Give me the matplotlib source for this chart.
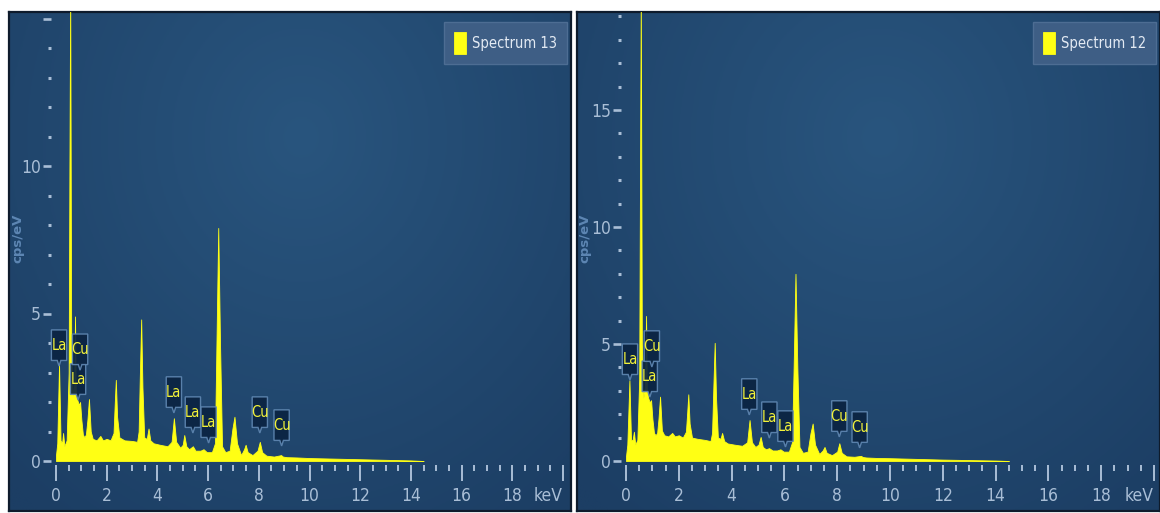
import numpy as np
import matplotlib
matplotlib.use("Agg")
import matplotlib.pyplot as plt
from matplotlib.patches import Polygon
from matplotlib.offsetbox import DrawingArea, AnnotationBbox
from matplotlib.ticker import MultipleLocator, FixedLocator
from matplotlib.text import Text

# ---------------- data ----------------
energy_13 = [0.0, 0.05, 0.12, 0.18, 0.24, 0.28, 0.33, 0.42, 0.50, 0.53, 0.56, 0.60, 0.66, 0.72,
             0.75, 0.78, 0.83, 0.90, 0.95, 1.00, 1.06, 1.12, 1.18, 1.24, 1.30, 1.37, 1.45, 1.60,
             1.75, 1.85, 2.00, 2.15, 2.27, 2.32, 2.36, 2.41, 2.50, 2.70, 3.00, 3.20, 3.26, 3.31,
             3.36, 3.41, 3.48, 3.58, 3.65, 3.72, 3.85, 4.10, 4.40, 4.56, 4.65, 4.74, 4.90, 5.00,
             5.06, 5.14, 5.25, 5.40, 5.50, 5.70, 5.82, 5.95, 6.15, 6.27, 6.33, 6.40, 6.47, 6.55,
             6.68, 6.85, 6.96, 7.04, 7.14, 7.30, 7.42, 7.48, 7.56, 7.75, 7.95, 8.04, 8.13, 8.30,
             8.60, 8.88, 8.95, 9.10, 9.50, 10.0, 11.0, 12.0, 13.0, 14.0, 14.5]
cps_13 = [0.2, 0.6, 3.3, 0.7, 0.6, 0.95, 0.5, 0.7, 3.0, 10.0, 16.0, 4.0, 2.2, 2.6,
          4.9, 2.4, 2.1, 1.9, 2.0, 1.4, 0.9, 0.8, 0.9, 1.4, 2.1, 1.0, 0.75, 0.7,
          0.85, 0.7, 0.75, 0.7, 0.95, 2.0, 2.75, 1.5, 0.8, 0.7, 0.68, 0.65, 1.0, 3.0,
          4.8, 2.5, 0.8, 0.75, 1.1, 0.7, 0.6, 0.55, 0.5, 0.65, 1.45, 0.65, 0.45, 0.55,
          0.88, 0.5, 0.4, 0.5, 0.35, 0.35, 0.4, 0.3, 0.3, 0.6, 4.0, 7.9, 4.0, 0.5,
          0.3, 0.35, 1.1, 1.5, 0.6, 0.2, 0.4, 0.55, 0.3, 0.2, 0.35, 0.65, 0.3, 0.18,
          0.15, 0.2, 0.15, 0.13, 0.12, 0.1, 0.08, 0.06, 0.04, 0.02, 0.0]

energy_12 = [0.0, 0.05, 0.13, 0.19, 0.25, 0.30, 0.35, 0.43, 0.50, 0.53, 0.56, 0.60, 0.66, 0.72,
             0.76, 0.79, 0.84, 0.90, 0.95, 1.00, 1.06, 1.12, 1.18, 1.23, 1.29, 1.36, 1.45, 1.60,
             1.75, 1.85, 2.00, 2.15, 2.27, 2.32, 2.36, 2.41, 2.50, 2.70, 3.00, 3.20, 3.26, 3.31,
             3.36, 3.41, 3.48, 3.58, 3.64, 3.72, 3.85, 4.10, 4.40, 4.59, 4.68, 4.77, 4.90, 5.02,
             5.10, 5.18, 5.30, 5.42, 5.55, 5.72, 5.85, 5.97, 6.17, 6.29, 6.35, 6.42, 6.49, 6.57,
             6.70, 6.88, 6.99, 7.07, 7.16, 7.32, 7.45, 7.52, 7.60, 7.80, 8.00, 8.08, 8.17, 8.35,
             8.65, 8.90, 8.97, 9.10, 9.50, 10.0, 11.0, 12.0, 13.0, 14.0, 14.5]
cps_12 = [0.2, 0.7, 3.45, 0.9, 0.9, 1.25, 0.7, 0.9, 3.5, 12.0, 20.0, 5.0, 2.7, 3.2,
          6.2, 3.0, 2.7, 2.5, 2.6, 1.8, 1.2, 1.1, 1.2, 1.8, 2.75, 1.3, 1.1, 1.05,
          1.2, 1.05, 1.1, 1.0, 1.25, 2.1, 2.85, 1.6, 1.0, 0.95, 0.9, 0.85, 1.2, 3.2,
          5.05, 2.7, 1.0, 0.95, 1.2, 0.85, 0.75, 0.7, 0.65, 0.8, 1.75, 0.8, 0.6, 0.7,
          1.03, 0.6, 0.5, 0.55, 0.45, 0.45, 0.5, 0.4, 0.4, 0.8, 4.0, 8.0, 4.0, 0.6,
          0.35, 0.4, 1.2, 1.6, 0.7, 0.3, 0.45, 0.6, 0.35, 0.25, 0.4, 0.76, 0.35, 0.2,
          0.18, 0.22, 0.17, 0.15, 0.13, 0.12, 0.09, 0.06, 0.04, 0.02, 0.0]

label_elem_13 = ["La", "La", "Cu", "La", "La", "La", "Cu", "Cu"]
label_keV_13 = [0.12, 0.87, 0.95, 4.65, 5.40, 6.02, 8.04, 8.90]
label_tip_13 = [3.22, 2.07, 3.08, 1.63, 0.95, 0.61, 0.95, 0.51]

label_elem_12 = ["La", "La", "Cu", "La", "La", "La", "Cu", "Cu"]
label_keV_12 = [0.15, 0.90, 0.98, 4.67, 5.43, 6.04, 8.08, 8.85]
label_tip_12 = [3.46, 2.73, 4.02, 1.97, 0.98, 0.60, 1.03, 0.56]

xtick_values = [0, 2, 4, 6, 8, 10, 12, 14, 16, 18, 20]
xtick_labels = ["0", "2", "4", "6", "8", "10", "12", "14", "16", "18", "keV"]
ytick_values = [0, 5, 10, 15]
ytick_labels_13 = ["0", "5", "10", ""]
ytick_labels_12 = ["0", "5", "10", "15"]

# ---------------- styling ----------------
W, H = 1160, 513
FONT = ["DejaVu Sans"]
STRETCH = "condensed"
YELLOW = "#ffff14"
TICK_C = "#a9bed6"
fig = plt.figure(figsize=(W / 100, H / 100), dpi=100, facecolor="white")


def rect(x0, y0, x1, y1):
    return [x0 / W, 1 - y1 / H, (x1 - x0) / W, (y1 - y0) / H]


def panel(box, x_zero, sx, y_zero, sy, energy, cps, l_elem, l_keV, l_tip,
          ylabels, ymax_minor, legend_label, ylab_x):
    # background with soft radial gradient
    bg = fig.add_axes(rect(*box))
    gx, gy = np.meshgrid(np.linspace(0, 1, 200), np.linspace(0, 1, 200))
    d = np.sqrt(((gx - 0.52) / 0.75) ** 2 + ((gy - 0.75) / 0.95) ** 2)
    t = np.clip(d, 0, 1)[..., None]
    c_in = np.array([0x29, 0x55, 0x7e]) / 255
    c_out = np.array([0x1c, 0x3e, 0x64]) / 255
    img = c_in * (1 - t) + c_out * t
    bg.imshow(img, extent=[0, 1, 0, 1], origin="lower", aspect="auto")
    bg.set_xticks([])
    bg.set_yticks([])
    for s in bg.spines.values():
        s.set_color("#0e1b2c")
        s.set_linewidth(1.6)

    # data axes
    xlo, xhi = -0.2, 20.12
    left = x_zero + xlo * sx
    right = x_zero + xhi * sx
    bottom = y_zero + 4
    top = box[1]
    ax = fig.add_axes(rect(left, top, right, bottom))
    ax.patch.set_alpha(0)
    ax.set_xlim(xlo, xhi)
    ax.set_ylim(-4 / sy, (y_zero - top) / sy)
    for s in ax.spines.values():
        s.set_visible(False)

    poly = ax.fill_between(energy, 0, cps, color=YELLOW, lw=0.6, label=legend_label,
                           zorder=3)

    ax.xaxis.set_major_locator(FixedLocator(xtick_values))
    ax.set_xticklabels(xtick_labels)
    ax.xaxis.set_minor_locator(MultipleLocator(0.5))
    ax.yaxis.set_major_locator(FixedLocator(ytick_values))
    ax.set_yticklabels(ylabels)
    ax.yaxis.set_minor_locator(FixedLocator(np.arange(0, ymax_minor + 1)))
    ax.tick_params(axis="x", which="major", direction="out", length=11.5, width=1.4,
                   color=TICK_C, labelcolor=TICK_C, labelsize=12.5, pad=4.5)
    ax.tick_params(axis="x", which="minor", direction="out", length=4.2, width=1.4,
                   color=TICK_C)
    ax.tick_params(axis="y", which="major", direction="out", length=5.5, width=1.9,
                   color=TICK_C, labelcolor=TICK_C, labelsize=12.5, pad=1.5)
    ax.tick_params(axis="y", which="minor", direction="out", length=2.0, width=2.2,
                   color=TICK_C)
    for lab in ax.get_xticklabels() + ax.get_yticklabels():
        lab.set_family(FONT)
        lab.set_fontstretch(STRETCH)
    ax.get_xticklabels()[-1].set_horizontalalignment("right")

    # element callouts
    for el, e, tip in zip(l_elem, l_keV, l_tip):
        da = DrawingArea(11, 26, 0, 0)
        shape = Polygon([(0, 4), (4.2, 4), (5.5, 0), (6.8, 4), (11, 4), (11, 26), (0, 26)],
                        closed=True, facecolor="#0b2442", edgecolor="#5f87b2", lw=1.0,
                        alpha=0.92)
        da.add_artist(shape)
        txt = Text(5.5, 15, el, color="#f2f23a", fontsize=10.5, ha="center", va="center",
                   family=FONT, fontstretch=STRETCH)
        da.add_artist(txt)
        ab = AnnotationBbox(da, (e, tip), xycoords="data", box_alignment=(0.5, 0),
                            frameon=False, pad=0, zorder=5)
        ax.add_artist(ab)

    leg_anchor = ((box[2] - 4) / W, 1 - 22 / H)
    leg = ax.legend(handles=[poly], loc="upper right", bbox_to_anchor=leg_anchor,
                    bbox_transform=fig.transFigure, borderaxespad=0, fancybox=False,
                    framealpha=1, facecolor="#3e5e85", edgecolor="#4d6d93",
                    handlelength=0.8, handleheight=1.9, handletextpad=0.4,
                    borderpad=0.7,
                    prop={"family": FONT, "size": 10.5, "stretch": STRETCH})
    for tx in leg.get_texts():
        tx.set_color("#e3eaf3")
    leg.get_frame().set_linewidth(1.0)

    fig.text(ylab_x / W, 1 - 238 / H, "cps/eV", rotation=90, ha="center", va="center",
             color="#5d86b3", fontsize=9.5, fontweight="bold")
    return ax


panel((9, 12, 571, 511), 56, 25.35, 461, 29.5, energy_13, cps_13,
      label_elem_13, label_keV_13, label_tip_13, ytick_labels_13, 15, "Spectrum 13", 18)
panel((577, 12, 1160, 511), 626, 26.4, 461, 23.4, energy_12, cps_12,
      label_elem_12, label_keV_12, label_tip_12, ytick_labels_12, 19, "Spectrum 12", 585)

fig.savefig("out.png", dpi=100, facecolor="white")
